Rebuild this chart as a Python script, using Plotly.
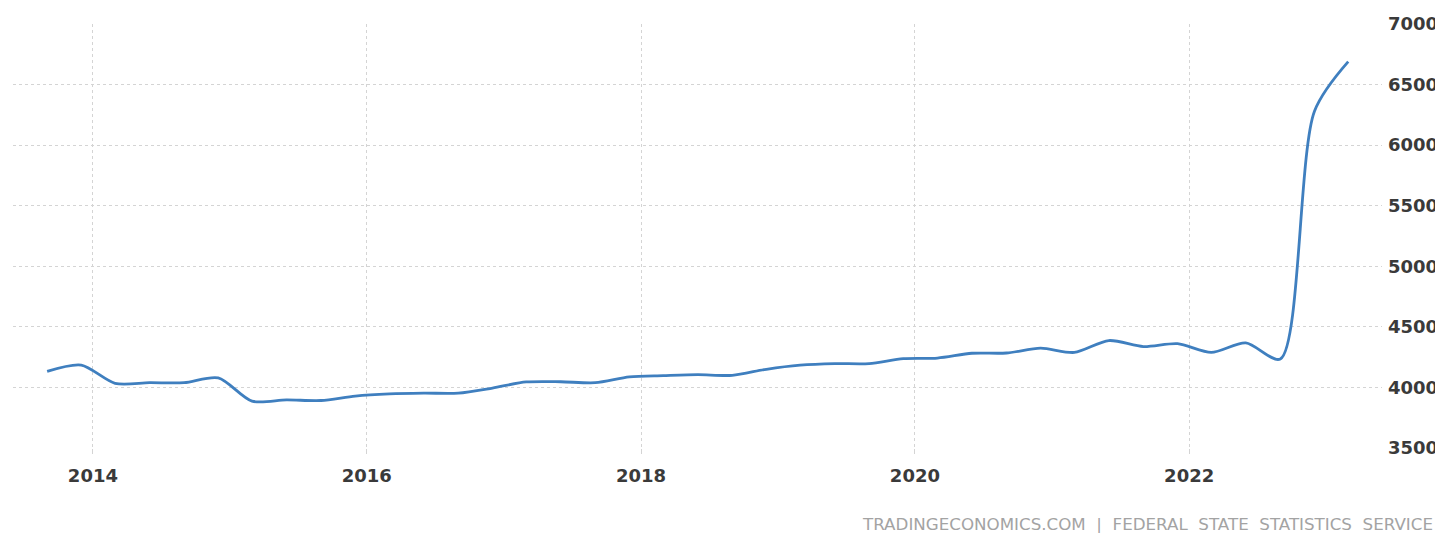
import plotly.graph_objects as go

dates = [
    "2013-09-01", "2013-12-01",
    "2014-03-01", "2014-06-01", "2014-09-01", "2014-12-01",
    "2015-03-01", "2015-06-01", "2015-09-01", "2015-12-01",
    "2016-03-01", "2016-06-01", "2016-09-01", "2016-12-01",
    "2017-03-01", "2017-06-01", "2017-09-01", "2017-12-01",
    "2018-03-01", "2018-06-01", "2018-09-01", "2018-12-01",
    "2019-03-01", "2019-06-01", "2019-09-01", "2019-12-01",
    "2020-03-01", "2020-06-01", "2020-09-01", "2020-12-01",
    "2021-03-01", "2021-06-01", "2021-09-01", "2021-12-01",
    "2022-03-01", "2022-06-01", "2022-09-01", "2022-12-01",
    "2023-03-01",
]
values = [
    4132, 4184,
    4034, 4039, 4039, 4079,
    3887, 3897, 3892, 3929,
    3947, 3953, 3953, 3995,
    4045, 4047, 4039, 4087,
    4097, 4105, 4100, 4150,
    4184, 4197, 4197, 4237,
    4242, 4282, 4284, 4324,
    4289, 4387, 4337, 4361,
    4289, 4368, 4235, 6280,
    6689,
]

y_ticks = [3500, 4000, 4500, 5000, 5500, 6000, 6500, 7000]
source_text = "TRADINGECONOMICS.COM  |  FEDERAL  STATE  STATISTICS  SERVICE"

fig = go.Figure()
fig.add_trace(go.Scatter(
    x=dates, y=values, mode="lines",
    line=dict(color="#3f7fbf", width=2.8, shape="spline", smoothing=0.8),
    showlegend=False, hoverinfo="x+y",
))

grid = "#d4d4d4"
label_font = dict(family="DejaVu Sans", size=18, color="#3a3a3a", weight="bold")
fig.update_layout(
    width=1435, height=525,
    margin=dict(l=5, r=60, t=13, b=85),
    paper_bgcolor="white", plot_bgcolor="white",
    font=dict(family="DejaVu Sans", color="#333333"),
    xaxis=dict(
        type="date",
        range=["2013-06-02", "2023-05-30"],
        tick0="2014-01-01", dtick="M24", tickformat="%Y",
        showgrid=True, gridcolor=grid, griddash="dot", gridwidth=1,
        ticks="outside", ticklen=5, tickcolor=grid,
        ticklabelstandoff=6,
        showline=False, zeroline=False,
        tickfont=label_font,
    ),
    yaxis=dict(
        side="right",
        range=[3500, 7000],
        tickvals=y_ticks,
        ticktext=[str(v) for v in y_ticks],
        showgrid=True, gridcolor=grid, griddash="dot", gridwidth=1,
        showline=False, zeroline=False, ticks="",
        ticklabelstandoff=5,
        tickfont=label_font,
    ),
    annotations=[dict(
        text=source_text, xref="paper", yref="paper",
        x=1.0, xanchor="right", xshift=53, y=0, yanchor="middle", yshift=-76,
        showarrow=False,
        font=dict(family="DejaVu Sans", size=16.7, color="#a3a3a3"),
    )],
)

fig.write_html("out.html")
